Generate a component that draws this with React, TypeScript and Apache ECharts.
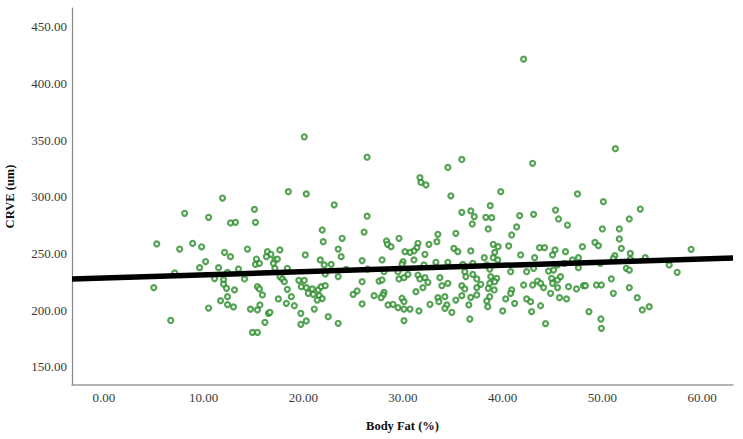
import React, { useEffect, useRef } from "react";
import * as echarts from "echarts";

// Body fat percentage of each participant (x) and matching CRVE in um (y)
const bodyFat: number[] = [
  5.0, 5.3, 6.7, 7.1, 7.6, 8.1, 8.9, 9.6, 9.8, 10.2, 10.5, 10.5,
  11.1, 11.5, 11.7, 11.9, 12.0, 12.0, 12.1, 12.3, 12.4, 12.4, 12.4, 12.7, 12.7, 13.0, 13.1, 13.2,
  13.5, 14.1, 14.4, 14.7, 14.9, 15.4,
  15.1, 15.2, 15.3, 15.2, 15.6, 16.4, 16.75, 16.3, 17.65, 17.15, 17.4, 17.0, 17.15, 18.4,
  15.4, 15.6, 18.4, 15.9, 17.65, 17.9, 18.1, 19.55, 20.1, 19.8, 20.3, 20.9, 21.5, 21.8, 22.2,
  20.5, 21.0, 21.6, 21.9, 21.4, 17.5, 18.8, 18.3, 19.1, 15.4, 15.65, 16.5, 16.65, 16.15, 21.1,
  19.75, 22.5, 19.75, 20.3, 23.5, 18.5, 20.3, 20.1, 23.1, 21.9, 22.0, 23.9, 23.5, 23.8, 20.2,
  21.7, 22.1, 22.8, 23.5, 24.3, 22.2, 25.0,
  26.4, 35.9, 34.5, 31.7, 31.8, 32.3, 34.8, 26.4, 26.1, 35.9, 36.8, 37.15, 36.95, 35.3, 33.5,
  33.4, 32.6, 29.6, 28.35, 28.45, 28.8, 31.5, 31.4, 31.1, 30.7, 30.2, 32.2, 31.1, 30.0, 29.9,
  27.9, 25.9, 35.1, 35.5, 36.8, 33.3, 34.5, 32.1, 36.0, 37.0, 38.15, 26.45, 28.1, 29.5, 29.6,
  30.1, 30.5, 31.5, 31.7, 32.2, 32.5, 32.0, 33.7, 33.9, 34.5, 36.2, 36.3, 37.0, 37.4, 35.9,
  36.2, 37.4, 37.8, 25.9, 27.6, 27.9, 25.4, 28.1, 28.0, 27.1, 27.8, 25.9, 28.5, 29.0, 29.5,
  30.1, 30.7, 29.9, 30.1, 31.3, 32.7, 33.5, 33.6, 34.2, 34.4, 34.2, 34.9, 31.6, 35.3, 35.9,
  36.8, 36.6, 36.7, 30.1, 37.4,
  42.1, 51.3, 43.0, 39.8, 47.5, 50.1, 38.75, 38.3, 38.9, 38.55, 41.7, 43.1, 45.3, 45.6, 46.5,
  41.4, 40.9, 50.0, 39.05, 39.55, 40.6, 43.7, 44.2, 45.25, 46.3, 48.0, 49.25, 49.6, 39.2, 39.05,
  39.5, 41.8, 43.2, 45.0, 47.0, 47.6, 45.5, 46.2, 38.4, 38.7, 40.8, 42.4, 43.1, 44.6, 45.1,
  47.6, 38.8, 39.4, 38.7, 39.2, 38.55, 39.15, 38.7, 38.4, 38.5, 40.9, 40.8, 42.1, 43.0, 43.5,
  43.8, 44.1, 44.9, 45.0, 45.5, 45.8, 45.5, 44.8, 46.6, 47.4, 48.1, 48.3, 49.4, 49.9, 50.9,
  51.1, 40.3, 41.2, 42.4, 42.8, 45.7, 46.4, 40.0, 42.9, 43.8, 48.65, 44.3, 49.85, 49.9, 49.8,
  53.8, 52.7, 51.7, 51.7, 51.9, 52.8, 52.8, 54.3, 58.9, 51.25, 51.1, 52.4, 52.7, 56.7, 57.5,
  52.7, 53.5, 54.0, 54.7,
];

const crve: number[] = [
  220, 258.5, 191, 233, 254, 285.5, 259, 237.6, 256, 243, 282, 202,
  228, 237.6, 208.5, 299, 227, 223, 251, 219.4, 233.5, 212, 205, 247.3, 277, 203, 218, 277.6,
  236.4, 227.6, 254, 201, 180.5, 180.5,
  289, 277.6, 245.2, 240.5, 241.4, 251.7, 249.4, 247.3, 253.2, 244.4, 245.2, 241.4, 237, 237,
  220.8, 218.8, 218.5, 213.5, 229.7, 227.6, 225.2, 226.4, 226.4, 220.8, 220, 218.8, 217.9, 220.8, 221.7,
  215, 214.1, 212.9, 210.3, 209, 210, 212, 206.1, 204, 200.3, 204.7, 197.3, 198.2, 189.4, 201.1,
  197.3, 194.4, 187.6, 190.6, 188.5, 304.6, 302.6, 353, 293, 270.8, 260.5, 263.5, 254, 247.3, 248.8,
  244.4, 240, 240.5, 229.7, 236, 232, 214,
  335, 333, 326, 317, 312.8, 310.5, 301, 283, 269, 286.4, 287.6, 282.6, 276.1, 267.9, 267,
  260.5, 258.2, 263.5, 261.1, 258.2, 256.1, 259.1, 255.2, 252.3, 251.1, 251.7, 249.4, 244.4, 242.9, 240.5,
  244.4, 243.8, 254.6, 251.7, 252.3, 242.3, 242.3, 240, 240.5, 241.4, 246.4, 236.4, 234, 234, 227.6,
  228.8, 231.7, 231.1, 227.6, 228.8, 224.7, 220, 228.8, 221.7, 223.8, 234, 229.7, 231.7, 227.6, 221.7,
  218.8, 220, 222.9, 225.2, 225.8, 226.7, 217, 215.8, 213.5, 212.9, 211.1, 205.6, 204.7, 205.3, 202.3,
  201.1, 201.1, 210.6, 207.6, 216.4, 205.3, 211.1, 207.6, 212, 204.7, 201.7, 198.2, 199.4, 209, 212.9,
  211.4, 204.7, 192.3, 190.9, 213.5,
  421.5, 342.5, 329.6, 304.6, 302.6, 295.8, 292.3, 282, 281.7, 271.7, 283.5, 284.6, 288.4, 280.5, 275.2,
  273.5, 266.4, 271.7, 258.2, 256.1, 256.7, 255.2, 255.2, 253.2, 251.7, 256.1, 259.9, 257, 251.1, 246.4,
  244.4, 248.8, 246.4, 248.8, 244.4, 246.4, 240, 241.4, 240, 236.4, 234, 234, 237, 234.6, 235.5,
  237.6, 229.7, 228.2, 223.8, 225.2, 219.4, 217.9, 212, 208.2, 203.2, 217.9, 215, 222.3, 222.3, 225.8,
  223.8, 220, 228.2, 223.8, 226.7, 229.7, 220, 215, 220.8, 218.8, 221.7, 221.7, 222.3, 222.3, 227.6,
  215, 210, 206.1, 210, 207.6, 211.1, 210, 199.4, 198.8, 204, 198.8, 188.2, 192.3, 184.1, 241.4,
  289.3, 280.5, 271.7, 262.9, 254.6, 250.2, 245.2, 246.4, 253.8, 248.2, 245.5, 237, 235.5, 240, 233.5,
  220, 211.1, 200.3, 203.2,
];

// Fitted linear trend, given at both ends of the x range
const fitX: number[] = [-3.2, 63.1];
const fitY: number[] = [227.6, 246.1];

// Axis extents and labelled tick values
const xRange: number[] = [-3.2, 63.1];
const yRange: number[] = [134.1, 466.6];
const xTicks: number[] = [0, 10, 20, 30, 40, 50, 60];
const yTicks: number[] = [150, 200, 250, 300, 350, 400, 450];

const FONT = "Liberation Serif";

export default function App() {
  const ref = useRef<HTMLDivElement>(null);

  useEffect(() => {
    document.body.style.margin = "0";
    if (!ref.current) return;
    const chart = echarts.init(ref.current, undefined, { renderer: "svg" });

    const points = bodyFat.map((x, i) => [x, crve[i]]);
    const fit = fitX.map((x, i) => [x, fitY[i]]);

    const tickLabel = {
      formatter: (v: number) => v.toFixed(2),
      fontFamily: FONT,
      fontSize: 13,
      color: "#3a3a3a",
    };

    chart.setOption({
      animation: false,
      backgroundColor: "#ffffff",
      textStyle: { fontFamily: FONT },
      grid: {
        left: 72,
        right: 10,
        top: 8,
        bottom: 54,
        containLabel: false,
        outerBoundsMode: "none",
      },
      xAxis: {
        type: "value",
        min: xRange[0],
        max: xRange[1],
        name: "Body Fat (%)",
        nameLocation: "middle",
        nameGap: 34,
        nameTextStyle: { fontFamily: FONT, fontWeight: "bold", fontSize: 12.5, color: "#111" },
        axisLine: { show: true, onZero: false, lineStyle: { color: "#9a9a9a", width: 1.5 } },
        axisTick: { show: false },
        splitLine: { show: false },
        axisLabel: { ...tickLabel, customValues: xTicks, margin: 6 },
      },
      yAxis: {
        type: "value",
        min: yRange[0],
        max: yRange[1],
        name: "CRVE (um)",
        nameLocation: "middle",
        nameGap: 56,
        nameRotate: 90,
        nameTextStyle: { fontFamily: FONT, fontWeight: "bold", fontSize: 12.5, color: "#111" },
        axisLine: { show: true, onZero: false, lineStyle: { color: "#8a8a8a", width: 1.2 } },
        axisTick: { show: false },
        splitLine: { show: false },
        axisLabel: { ...tickLabel, customValues: yTicks, margin: 5 },
      },
      series: [
        {
          type: "scatter",
          data: points,
          symbol: "circle",
          symbolSize: 5,
          itemStyle: { color: "#ffffff", borderColor: "#2a8c2a", borderWidth: 2.2 },
          z: 2,
        },
        {
          type: "line",
          data: fit,
          symbol: "none",
          lineStyle: { color: "#000000", width: 5.5 },
          z: 3,
        },
      ],
    });

    return () => chart.dispose();
  }, []);

  return <div ref={ref} style={{ width: 743, height: 439 }} />;
}
